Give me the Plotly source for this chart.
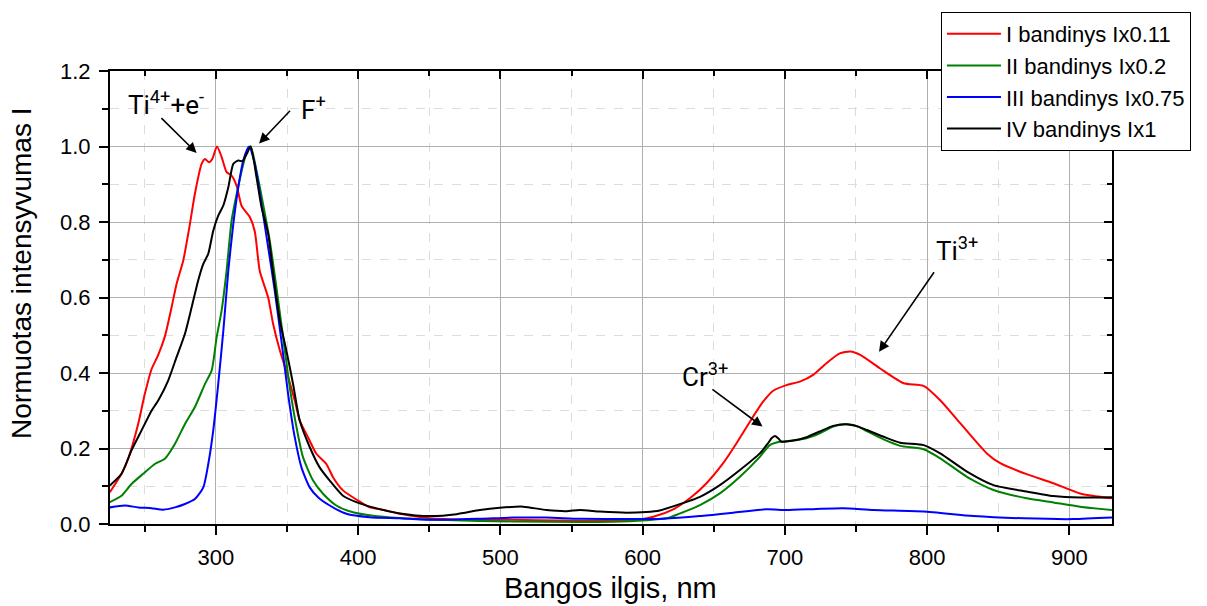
import plotly.graph_objects as go

# ---- data ----
red_x = [225.4, 233.6, 238.3, 245.3, 250, 254.7, 259.4, 264.1, 268.8, 272.3, 277, 281.7, 285.2, 289.9,
         292.3, 295.1, 297.4, 300.7, 304, 307.5, 311, 314.6, 318.1, 323.8, 327.3, 330.8, 336.7, 340.2,
         344.9, 350.7, 355.4, 358.9, 364.7, 370.6, 377.6, 382.3, 389.3, 399.9, 408, 415.4, 429.4, 450.5,
         473.9, 509, 544, 579.2, 597.9, 607.5, 621.5, 633.2, 644.9, 656.6, 666, 675.4, 684.7, 691.8,
         701.1, 710.5, 719.9, 729.2, 738.6, 746, 753, 767, 783.5, 797.5, 809.2, 823.3, 842, 851.4, 870,
         888.8, 907.5, 930]
red_y = [0.084, 0.133, 0.173, 0.265, 0.345, 0.41, 0.448, 0.497, 0.574, 0.636, 0.698, 0.795, 0.875, 0.954,
         0.967, 0.958, 0.967, 1.0, 0.972, 0.932, 0.923, 0.895, 0.842, 0.813, 0.775, 0.67, 0.6, 0.53,
         0.46, 0.39, 0.327, 0.274, 0.23, 0.186, 0.159, 0.124, 0.089, 0.062, 0.044, 0.039, 0.027, 0.015,
         0.011, 0.011, 0.009, 0.008, 0.012, 0.019, 0.039, 0.068, 0.108, 0.161, 0.214, 0.271, 0.324, 0.353,
         0.368, 0.377, 0.395, 0.426, 0.452, 0.457, 0.448, 0.412, 0.373, 0.366, 0.328, 0.267, 0.187, 0.161,
         0.132, 0.108, 0.081, 0.068]

green_x = [225.4, 233.6, 240.6, 248.8, 257, 264.1, 271.1, 278.2, 285.2, 292.3, 297, 300.5, 304, 307.5,
           311, 314.6, 318.1, 321.6, 324.4, 328.5, 333.1, 337.8, 342.5, 347.2, 351.9, 356.6, 361.2, 368.3,
           375.3, 384.6, 396.3, 410.4, 429.1, 450, 485, 532, 579, 602.6, 616.9, 625, 640.3, 654.3, 668.4,
           682.4, 689.4, 696.4, 705.8, 715.2, 724.5, 733.9, 743.2, 751.5, 757.7, 769.4, 781.1, 797.5, 809.2,
           828, 846.7, 870, 888.8, 907.5, 930]
green_y = [0.058, 0.075, 0.106, 0.133, 0.159, 0.173, 0.212, 0.265, 0.31, 0.371, 0.407, 0.495, 0.566, 0.672,
           0.804, 0.875, 0.936, 0.985, 1.0, 0.936, 0.848, 0.751, 0.627, 0.495, 0.362, 0.257, 0.177, 0.115,
           0.08, 0.049, 0.031, 0.022, 0.016, 0.012, 0.008, 0.006, 0.006, 0.01, 0.015, 0.026, 0.05, 0.081, 0.125,
           0.178, 0.209, 0.218, 0.221, 0.227, 0.24, 0.258, 0.264, 0.258, 0.246, 0.224, 0.207, 0.198, 0.174,
           0.125, 0.09, 0.068, 0.057, 0.046, 0.037]

blue_x = [225.4, 236, 245.3, 254.7, 262.9, 271.1, 278.2, 285.2, 291.1, 294.6, 298.1, 301.6, 305.2, 308.7,
          312.2, 315.7, 319.2, 323.2, 327.3, 332, 336.7, 341.3, 346, 350.7, 355.4, 360.1, 365.9, 371.8, 380,
          391.7, 408, 429.1, 450.5, 485.6, 509, 532.4, 555.8, 590, 614, 640.3, 663.7, 687, 701.1, 722.2,
          740.9, 762.4, 797.5, 832.6, 867.7, 902.9, 930]
blue_y = [0.044, 0.049, 0.044, 0.042, 0.038, 0.044, 0.053, 0.066, 0.097, 0.159, 0.248, 0.371, 0.513, 0.672,
          0.795, 0.892, 0.963, 1.0, 0.954, 0.848, 0.733, 0.619, 0.486, 0.345, 0.23, 0.15, 0.097, 0.071, 0.049,
          0.027, 0.018, 0.015, 0.011, 0.014, 0.017, 0.017, 0.014, 0.013, 0.014, 0.021, 0.03, 0.039, 0.037, 0.04,
          0.042, 0.037, 0.033, 0.021, 0.015, 0.013, 0.017]

black_x = [225.4, 233.6, 240.6, 247.7, 254.7, 259.4, 266.4, 272.3, 278.2, 282.9, 287.5, 291.1, 294.6, 298.1,
           301.6, 305.2, 308.7, 312.2, 315.7, 318.6, 321.6, 324.4, 328.5, 332, 336.7, 340.2, 344.9, 349.5,
           354.2, 358.9, 365.9, 372.9, 380, 389.3, 398.7, 410.4, 429.4, 450.5, 469.2, 485.6, 499.6, 516,
           532.4, 546.4, 555.8, 569.9, 588.6, 602.6, 612, 624, 640.3, 654.3, 668.4, 682.4, 688.2, 690.6, 693,
           695.3, 697.6, 705.8, 715.2, 724.5, 733.9, 743.2, 751.5, 757.7, 769.4, 781.1, 797.5, 809.2, 828,
           846.7, 870, 888.8, 907.5, 930]
black_y = [0.102, 0.133, 0.195, 0.248, 0.3, 0.327, 0.38, 0.442, 0.504, 0.574, 0.645, 0.689, 0.716, 0.777,
           0.817, 0.844, 0.892, 0.954, 0.963, 0.961, 0.98, 1.0, 0.919, 0.84, 0.769, 0.663, 0.539, 0.46,
           0.371, 0.274, 0.204, 0.15, 0.115, 0.075, 0.058, 0.044, 0.028, 0.021, 0.026, 0.037, 0.043, 0.046,
           0.037, 0.034, 0.037, 0.033, 0.03, 0.032, 0.036, 0.05, 0.072, 0.103, 0.143, 0.187, 0.214, 0.227, 0.233,
           0.227, 0.218, 0.221, 0.23, 0.245, 0.26, 0.264, 0.258, 0.249, 0.231, 0.215, 0.209, 0.187, 0.139,
           0.103, 0.086, 0.074, 0.07, 0.071]

series_names = ["I bandinys Ix0.11", "II bandinys Ix0.2", "III bandinys Ix0.75", "IV bandinys Ix1"]
series_colors = ["#ff0000", "#008000", "#0000ff", "#000000"]

X_RANGE = [225.5, 930]
Y_RANGE = [0, 1.2]

fig = go.Figure()
for name, col, xs, ys in zip(series_names, series_colors,
                             [red_x, green_x, blue_x, black_x],
                             [red_y, green_y, blue_y, black_y]):
    fig.add_trace(go.Scatter(x=xs, y=ys, mode="lines", name=name,
                             line=dict(color=col, width=2, shape="spline", smoothing=0.6)))

# invisible trace for the mirrored (inside) tick axes
fig.add_trace(go.Scatter(x=[None], y=[None], xaxis="x2", yaxis="y2", showlegend=False,
                         hoverinfo="skip"))

tickfont = dict(family="Liberation Sans, Arial, sans-serif", size=22, color="black")

fig.update_layout(
    width=1207, height=606,
    margin=dict(l=110, r=95, t=71, b=82, autoexpand=False),
    paper_bgcolor="white", plot_bgcolor="white",
    font=dict(family="Liberation Sans, Arial, sans-serif", color="black"),
    xaxis=dict(range=X_RANGE, dtick=100, tick0=0, ticks="outside", ticklen=9, tickwidth=1.5,
               tickcolor="black", showline=True, linecolor="black", linewidth=2, mirror=True,
               showgrid=True, gridcolor="#b0b0b0", gridwidth=1, zeroline=False,
               tickfont=tickfont, ticklabelstandoff=4,
               minor=dict(dtick=50, ticks="outside", ticklen=6, tickwidth=1.5, tickcolor="black",
                          showgrid=True, gridcolor="#dcdcdc", griddash="dash", gridwidth=1)),
    yaxis=dict(range=Y_RANGE, dtick=0.2, tick0=0, tickformat=".1f", ticks="outside", ticklen=9,
               tickwidth=1.5, tickcolor="black", showline=True, linecolor="black", linewidth=2,
               mirror=True, showgrid=True, gridcolor="#b0b0b0", gridwidth=1, zeroline=False,
               tickfont=tickfont, ticklabelstandoff=4,
               minor=dict(dtick=0.1, ticks="outside", ticklen=6, tickwidth=1.5, tickcolor="black",
                          showgrid=True, gridcolor="#dcdcdc", griddash="dash", gridwidth=1)),
    xaxis2=dict(overlaying="x", side="top", range=X_RANGE, dtick=100, tick0=0, ticks="inside",
                ticklen=8, tickwidth=1.5, tickcolor="black", showticklabels=False, showgrid=False,
                showline=False, zeroline=False,
                minor=dict(dtick=50, ticks="inside", ticklen=5, tickwidth=1.5, tickcolor="black",
                           showgrid=False)),
    yaxis2=dict(overlaying="y", side="right", range=Y_RANGE, dtick=0.2, tick0=0, ticks="inside",
                ticklen=8, tickwidth=1.5, tickcolor="black", showticklabels=False, showgrid=False,
                showline=False, zeroline=False,
                minor=dict(dtick=0.1, ticks="inside", ticklen=5, tickwidth=1.5, tickcolor="black",
                           showgrid=False)),
    legend=dict(x=0.8293, y=1.1302, xanchor="left", yanchor="top", bgcolor="white",
                bordercolor="black", borderwidth=1, itemwidth=54, tracegroupgap=0,
                entrywidth=200,
                font=dict(family="Liberation Sans, Arial, sans-serif", size=22, color="black")),
    showlegend=True,
)

# axis titles
fig.add_annotation(text="Bangos ilgis, nm", xref="paper", yref="paper", x=0.4995, y=-0.142,
                   xanchor="center", yanchor="middle", showarrow=False,
                   font=dict(family="Liberation Sans, Arial, sans-serif", size=29, color="black"))
fig.add_annotation(text="Normuotas intensyvumas I", xref="paper", yref="paper", x=-0.0878, y=0.552,
                   xanchor="center", yanchor="middle", textangle=-90, showarrow=False,
                   font=dict(family="Liberation Sans, Arial, sans-serif", size=28, color="black"))

# peak labels and arrows
label_font = dict(family="Roboto, Liberation Sans, sans-serif", size=26, color="black")
labels = [
    ("Ti<sup>4+</sup>+e<sup>-</sup>", 264.6, 1.115, 286.4, 0.983, 260.6, 1.079),
    ("F<sup>+</sup>", 368.8, 1.102, 330.3, 1.008, 353.1, 1.0985),
    ("Ti<sup>3+</sup>", 821.0, 0.728, 766.2, 0.456, 805.6, 0.671),
    ("Cr<sup>3+</sup>", 644.0, 0.395, 684.3, 0.258, 648.0, 0.3595),
]
for txt, tx, ty, hx, hy, ax_, ay_ in labels:
    fig.add_annotation(text=txt, x=tx, y=ty, xref="x", yref="y", showarrow=False,
                       xanchor="center", yanchor="middle", font=label_font)
    fig.add_annotation(text="", x=hx, y=hy, xref="x", yref="y", ax=ax_, ay=ay_,
                       axref="x", ayref="y", showarrow=True, arrowhead=2, arrowsize=1.3,
                       arrowwidth=1.6, arrowcolor="black", standoff=0, startstandoff=0)

fig.write_html("out.html")
